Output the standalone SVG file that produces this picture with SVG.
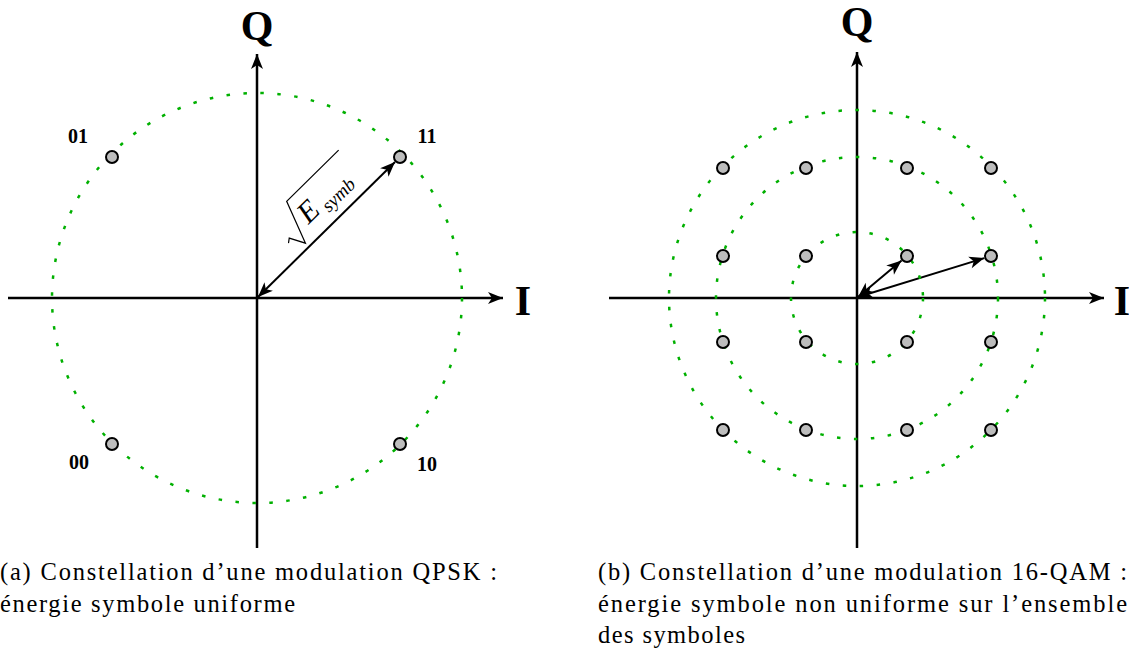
<svg xmlns="http://www.w3.org/2000/svg" width="1129" height="653" viewBox="0 0 1129 653">
<style>
.axis{stroke:#000;stroke-width:2.5;fill:none}
.vec{stroke:#000;stroke-width:2;fill:none}
.ring{stroke:#00b000;stroke-width:2.5;fill:none;stroke-dasharray:3.5 13.5}
.pt{fill:#bdbdbd;stroke:#000;stroke-width:2}
.axl{font-family:"Liberation Serif","DejaVu Serif",serif;font-weight:bold;font-size:42px;text-anchor:middle}
.lbl{font-family:"Liberation Serif","DejaVu Serif",serif;font-weight:bold;font-size:20px;text-anchor:middle}
.cap{font-family:"Liberation Serif","Times New Roman","DejaVu Serif",serif;font-weight:normal;font-size:24.5px}
.math{font-family:"Liberation Serif","Times New Roman","DejaVu Serif",serif;font-style:italic}
</style>
<defs>
<marker id="ah" viewBox="-16 -7 17 14" markerWidth="17" markerHeight="14" refX="0" refY="0" orient="auto-start-reverse" markerUnits="userSpaceOnUse">
<path d="M0,0 L-15,-6 L-11,0 L-15,6 Z" fill="#000"/>
</marker>
</defs>

<g id="connectors">
<line class="axis" x1="8" y1="298" x2="503" y2="298" marker-end="url(#ah)"/>
<line class="axis" x1="257" y1="548" x2="257" y2="54" marker-end="url(#ah)"/>
<line class="vec" x1="258" y1="297" x2="395" y2="162" marker-start="url(#ah)" marker-end="url(#ah)"/>
<line class="axis" x1="609" y1="298" x2="1104" y2="298" marker-end="url(#ah)"/>
<line class="axis" x1="857" y1="548" x2="857" y2="52" marker-end="url(#ah)"/>
<line class="vec" x1="858" y1="297" x2="901.6" y2="260.5" marker-start="url(#ah)" marker-end="url(#ah)"/>
<line class="vec" x1="858" y1="297" x2="984.3" y2="258.1" marker-start="url(#ah)" marker-end="url(#ah)"/>
</g>

<g id="qpsk-rings">
<circle class="ring" cx="257" cy="298" r="205"/>
</g>
<g id="qam-rings">
<circle class="ring" cx="857" cy="298" r="66"/>
<circle class="ring" cx="857" cy="298" r="141"/>
<circle class="ring" cx="857" cy="298" r="188"/>
</g>

<g id="qpsk-axes-labels">
<text class="axl" x="257" y="40">Q</text>
<text class="axl" x="523" y="315">I</text>
</g>
<g id="qam-axes-labels">
<text class="axl" x="857" y="36">Q</text>
<text class="axl" x="1122" y="315">I</text>
</g>

<g id="qpsk-01"><circle class="pt" cx="112" cy="157" r="6"/><text class="lbl" x="78" y="143">01</text></g>
<g id="qpsk-11"><circle class="pt" cx="400" cy="157" r="6"/><text class="lbl" x="427" y="143">11</text></g>
<g id="qpsk-00"><circle class="pt" cx="112" cy="444" r="6"/><text class="lbl" x="79" y="469">00</text></g>
<g id="qpsk-10"><circle class="pt" cx="400" cy="444" r="6"/><text class="lbl" x="427" y="471">10</text></g>

<g id="esymb-label" transform="translate(257,298) rotate(-44.6)">
<polyline points="61,-17 65,-20 73,-5 89,-48 162,-48" fill="none" stroke="#000" stroke-width="1.2" stroke-linejoin="miter"/>
<text class="math" x="88" y="-16" font-size="30">E</text>
<text class="math" x="111" y="-10" font-size="19">symb</text>
</g>

<g id="qam-points">
<circle class="pt" cx="723" cy="168" r="6"/><circle class="pt" cx="806" cy="168" r="6"/><circle class="pt" cx="907" cy="168" r="6"/><circle class="pt" cx="991" cy="168" r="6"/>
<circle class="pt" cx="723" cy="256" r="6"/><circle class="pt" cx="806" cy="256" r="6"/><circle class="pt" cx="907" cy="256" r="6"/><circle class="pt" cx="991" cy="256" r="6"/>
<circle class="pt" cx="723" cy="342" r="6"/><circle class="pt" cx="806" cy="342" r="6"/><circle class="pt" cx="907" cy="342" r="6"/><circle class="pt" cx="991" cy="342" r="6"/>
<circle class="pt" cx="723" cy="430" r="6"/><circle class="pt" cx="806" cy="430" r="6"/><circle class="pt" cx="907" cy="430" r="6"/><circle class="pt" cx="991" cy="430" r="6"/>
</g>

<g id="caption-a">
<text class="cap" x="0" y="580" textLength="497" lengthAdjust="spacing">(a) Constellation d’une modulation QPSK :</text>
<text class="cap" x="0" y="612" textLength="295" lengthAdjust="spacing">énergie symbole uniforme</text>
</g>
<g id="caption-b">
<text class="cap" x="598" y="580" textLength="529" lengthAdjust="spacing">(b) Constellation d’une modulation 16-QAM :</text>
<text class="cap" x="598" y="612" textLength="529" lengthAdjust="spacing">énergie symbole non uniforme sur l’ensemble</text>
<text class="cap" x="598" y="643" textLength="147" lengthAdjust="spacing">des symboles</text>
</g>
</svg>
